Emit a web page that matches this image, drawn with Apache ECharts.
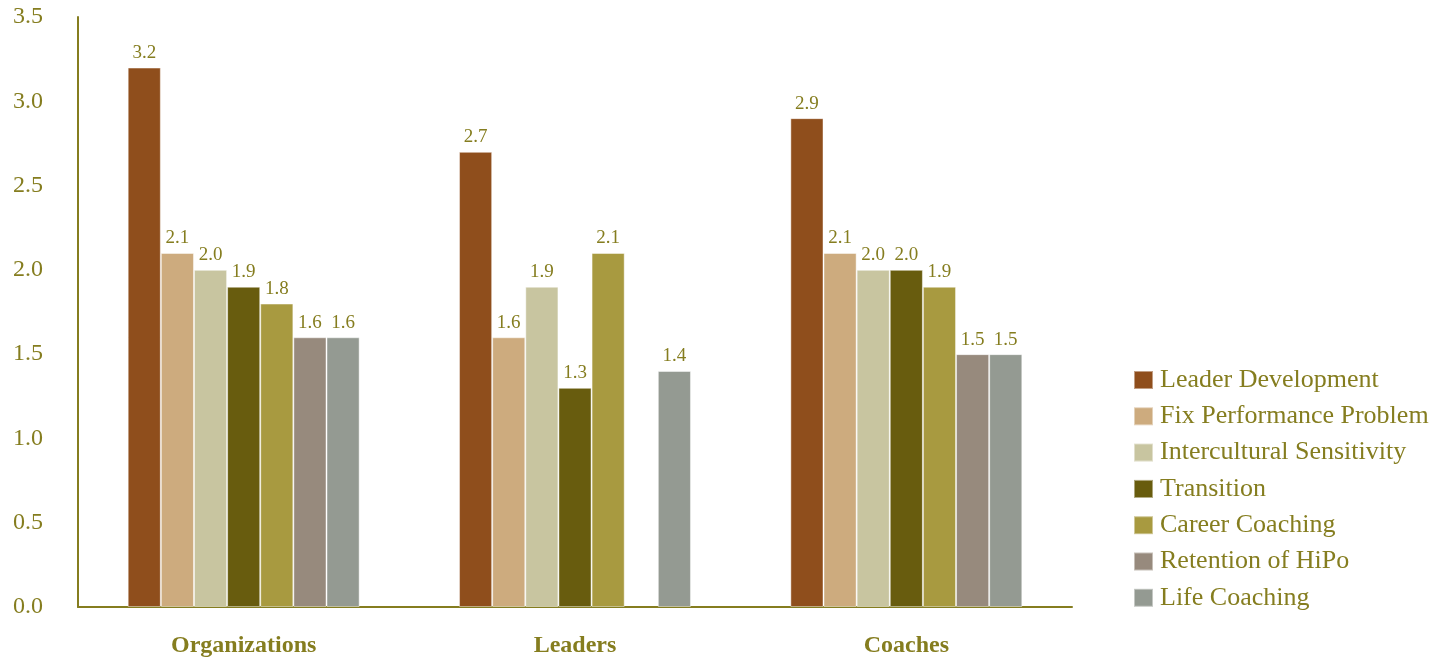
<!DOCTYPE html>
<html>
<head>
<meta charset="utf-8">
<script src="https://cdn.jsdelivr.net/npm/echarts@6/dist/echarts.min.js"></script>
<style>
  html, body { margin: 0; padding: 0; background: #ffffff; }
  #chart { width: 1454px; height: 659px; }
</style>
</head>
<body>
<div id="chart"></div>
<script>
// Coaching purposes by respondent group
const categories = ['Organizations', 'Leaders', 'Coaches'];
const seriesNames = [
  'Leader Development',
  'Fix Performance Problem',
  'Intercultural Sensitivity',
  'Transition',
  'Career Coaching',
  'Retention of HiPo',
  'Life Coaching'
];
const leaderDevelopment = [3.2, 2.7, 2.9];
const fixPerformance = [2.1, 1.6, 2.1];
const interculturalSensitivity = [2.0, 1.9, 2.0];
const transition = [1.9, 1.3, 2.0];
const careerCoaching = [1.8, 2.1, 1.9];
const retentionHiPo = [1.6, null, 1.5];
const lifeCoaching = [1.6, 1.4, 1.5];
const yTicks = [0, 0.5, 1, 1.5, 2, 2.5, 3, 3.5];

const seriesValues = [
  leaderDevelopment, fixPerformance, interculturalSensitivity,
  transition, careerCoaching, retentionHiPo, lifeCoaching
];
const colors = ['#8f4e1c', '#cdab7e', '#c8c5a0', '#685c0e', '#a89a40', '#978a7d', '#949a92'];
const olive = '#857d1f';
const serif = '"Liberation Serif", "DejaVu Serif", serif';

const chart = echarts.init(document.getElementById('chart'));
chart.setOption({
  animation: false,
  backgroundColor: '#ffffff',
  color: colors,
  grid: { left: 78, right: 382, top: 17, bottom: 52, containLabel: false },
  legend: {
    orient: 'vertical',
    left: 1128,
    top: 362,
    height: 290,
    itemWidth: 19,
    itemHeight: 18,
    itemGap: 10.3,
    icon: 'rect',
    textStyle: {
      color: olive, fontFamily: serif, fontSize: 26,
      padding: [0, 0, 0, 2]
    },
    data: seriesNames
  },
  xAxis: {
    type: 'category',
    data: categories,
    axisLine: { lineStyle: { color: olive, width: 2 } },
    axisTick: { show: false },
    axisLabel: {
      color: olive, fontFamily: serif, fontSize: 24, fontWeight: 'bold', margin: 27
    }
  },
  yAxis: {
    type: 'value',
    min: 0,
    max: 3.5,
    interval: 0.5,
    axisLine: { show: true, lineStyle: { color: olive, width: 2 } },
    axisTick: { show: false },
    splitLine: { show: false },
    axisLabel: {
      color: olive, fontFamily: serif, fontSize: 24, margin: 35,
      formatter: v => (yTicks.includes(v) ? v.toFixed(1) : '')
    }
  },
  series: seriesNames.map((name, i) => ({
    name,
    type: 'bar',
    data: seriesValues[i],
    barGap: '0%',
    barCategoryGap: '30%',
    itemStyle: { color: colors[i], borderColor: 'rgba(255,255,255,0.45)', borderWidth: 1 },
    label: {
      show: true,
      position: 'top',
      distance: 5,
      color: olive,
      fontFamily: serif,
      fontSize: 19,
      formatter: p => (p.value == null ? '' : Number(p.value).toFixed(1))
    }
  }))
});
</script>
</body>
</html>
